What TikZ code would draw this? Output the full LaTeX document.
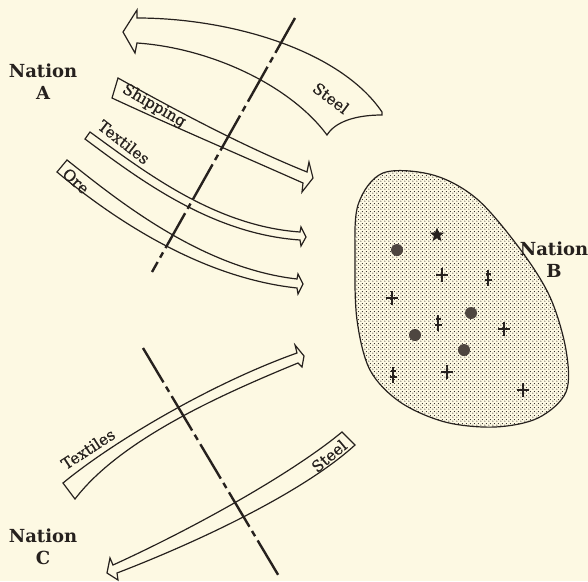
\documentclass[tikz,border=0pt]{standalone}
\usepackage{fontspec}
\setmainfont{DejaVu Serif}
\newfontfamily\labfont[FakeBold=0.7]{DejaVu Serif}
\usetikzlibrary{patterns,shapes.geometric}
\definecolor{bg}{RGB}{253,249,227}
\definecolor{ink}{RGB}{38,33,30}
\definecolor{dotc}{RGB}{78,70,64}
\pgfdeclarepatternformonly{blobdots}{\pgfpointorigin}{\pgfqpoint{3.6pt}{3.6pt}}{\pgfqpoint{3.6pt}{3.6pt}}{%
  \pgfpathcircle{\pgfqpoint{0.9pt}{0.9pt}}{0.62pt}%
  \pgfpathcircle{\pgfqpoint{2.7pt}{2.7pt}}{0.62pt}%
  \pgfusepath{fill}}
\tikzset{
  flow/.style={draw=ink, line width=1.2pt, line join=miter},
  border/.style={draw=ink, line width=2.4pt, dash pattern=on 40pt off 5pt on 6pt off 5pt},
  lab/.style={font=\labfont\fontsize{15.5}{17}\selectfont, text=ink, inner sep=0pt},
  nation/.style={font=\fontsize{18}{22}\selectfont\bfseries, align=center, text=ink, inner sep=0pt},
  plusmark/.pic={\draw[ink, line width=1.3pt] (-6,0) -- (6,0) (0,-7) -- (0,7);},
  dblcross/.pic={\draw[ink, line width=1.2pt] (0,-8) -- (0,8) (-2.5,-4) -- (2.5,-4) (-3.5,2) -- (3.5,2);},
  bigdot/.style={fill=dotc}
}
\begin{document}
\begin{tikzpicture}[x=1pt,y=-1pt]
\fill[bg] (0,0) rectangle (588,581);
\useasboundingbox (0,0) rectangle (588,581);

% Nation B territory
\draw[ink, line width=1.2pt, pattern=blobdots, pattern color=ink]
  plot[smooth cycle, tension=0.55] coordinates {(383,173) (433,175) (477,199) (520,249) (550,297)
  (566,350) (566,392) (538,418) (495,427) (445,422) (400,402) (370,370) (357,320) (355,260) (358,205)};

\node[star, star points=5, star point ratio=2.3, fill=ink, minimum size=15pt, inner sep=0pt] (st) at (437,235) {};
\fill[bigdot] (397,250) circle (6);
\fill[bigdot] (471,313) circle (6);
\fill[bigdot] (415,335) circle (6);
\fill[bigdot] (464,350) circle (6);
\pic at (442,275) {plusmark};
\pic at (392,298) {plusmark};
\pic at (504,329) {plusmark};
\pic at (447,372) {plusmark};
\pic at (523,390) {plusmark};
\pic at (488,278) {dblcross};
\pic at (438,323) {dblcross};
\pic at (393,375) {dblcross};

% Steel (top, to A)
\draw[flow] (137,18) .. controls (230,18) and (340,50) .. (382,112)
  -- (382,115) .. controls (355,115) and (335,122) .. (327,135)
  .. controls (290,85) and (210,48) .. (137,43)
  -- (135,53) -- (123,32) -- (137,10) -- cycle;
% Shipping
\draw[flow] (118,78) .. controls (170,107) and (240,145) .. (307,172)
  -- (309,162) -- (313,178) -- (302,192) -- (303,183)
  .. controls (240,155) and (170,125) .. (112,98) -- cycle;
% Textiles (A)
\draw[flow] (90,132) .. controls (145,172) and (215,226) .. (300,232)
  -- (301,227) -- (306,237) -- (301,246) -- (300,240)
  .. controls (212,234) and (140,180) .. (85,139) -- cycle;
% Ore
\draw[flow] (67,160) .. controls (115,198) and (200,268) .. (297,279)
  -- (298,274) -- (303,284) -- (298,294) -- (297,288)
  .. controls (195,277) and (105,212) .. (57,172) -- cycle;
% Textiles (C)
\draw[flow] (63,483) .. controls (115,440) and (215,382) .. (297,353)
  -- (295,345) -- (304,356) -- (302,367) -- (298,363)
  .. controls (220,395) and (120,440) .. (75,499) -- cycle;
% Steel (C)
\draw[flow] (342,432) .. controls (290,475) and (190,530) .. (113,565)
  -- (110,558) -- (107,573) -- (118,580) -- (117,573)
  .. controls (190,545) and (300,495) .. (355,445) -- cycle;

% borders
\coordinate (bA1) at (295,18);
\coordinate (bA2) at (152,272);
\coordinate (bC1) at (143,348);
\coordinate (bC2) at (280,578);
\draw[border] (bA1) -- (bA2);
\draw[border] (bC1) -- (bC2);

% labels
\node[lab, rotate=-37] (steelA) at (331,98) {Steel};
\node[lab, rotate=-30] (ship) at (154,106) {Shipping};
\node[lab, rotate=-38] (textA) at (124,142) {Textiles};
\node[lab, rotate=-42] (ore) at (76,181) {Ore};
\node[lab, rotate=33] (textC) at (88,449) {Textiles};
\node[lab, rotate=40] (steelC) at (329,456) {Steel};
\node[nation] (nA) at (43,82) {Nation\\A};
\node[nation] (nB) at (554,260) {Nation\\B};
\node[nation] (nC) at (43,547) {Nation\\C};
\end{tikzpicture}
\end{document}
